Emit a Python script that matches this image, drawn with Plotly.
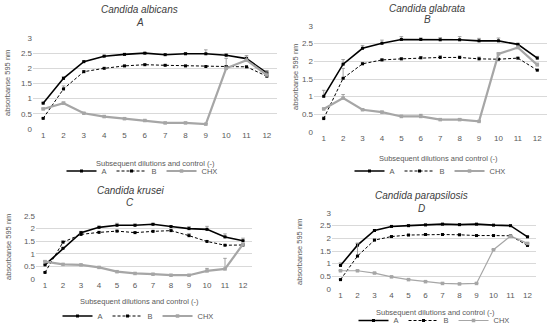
import plotly.graph_objects as go

x_cats = [str(i) for i in range(1, 13)]
series_names = ["A", "B", "CHX"]
panel_titles = ["Candida albicans", "Candida glabrata", "Candida krusei", "Candida parapsilosis"]
panel_letters = ["A", "B", "C", "D"]
x_title = "Subsequent dilutions and control (-)"
y_title = "absorbanse 595 nm"

# Panel A - Candida albicans
albicans_A = [0.85, 1.67, 2.22, 2.40, 2.46, 2.50, 2.45, 2.48, 2.48, 2.43, 2.32, 1.85]
albicans_B = [0.35, 1.32, 1.89, 2.00, 2.08, 2.12, 2.10, 2.08, 2.06, 2.06, 2.05, 1.74]
albicans_CHX = [0.66, 0.85, 0.52, 0.41, 0.34, 0.28, 0.20, 0.20, 0.16, 2.00, 2.27, 1.78]
albicans_A_err = [0.03, 0.05, 0.03, 0.03, 0.02, 0.02, 0.02, 0.04, 0.13, 0.05, 0.05, 0.08]
albicans_B_err = [0.02, 0.10, 0.03, 0.02, 0.02, 0.02, 0.02, 0.02, 0.02, 0.02, 0.02, 0.03]
albicans_CHX_err = [0.03, 0.04, 0.02, 0.02, 0.02, 0.02, 0.02, 0.02, 0.02, 0.33, 0.15, 0.10]

# Panel B - Candida glabrata
glabrata_A = [1.01, 1.92, 2.37, 2.51, 2.62, 2.62, 2.61, 2.61, 2.58, 2.58, 2.48, 2.09]
glabrata_B = [0.38, 1.52, 1.93, 2.04, 2.07, 2.10, 2.11, 2.11, 2.07, 2.06, 2.09, 1.75]
glabrata_CHX = [0.65, 0.96, 0.63, 0.56, 0.44, 0.44, 0.35, 0.35, 0.30, 2.21, 2.39, 1.90]
glabrata_A_err = [0.17, 0.13, 0.08, 0.09, 0.08, 0.04, 0.06, 0.09, 0.07, 0.08, 0.03, 0.05]
glabrata_B_err = [0.05, 0.28, 0.04, 0.03, 0.03, 0.03, 0.05, 0.04, 0.05, 0.02, 0.02, 0.02]
glabrata_CHX_err = [0.03, 0.10, 0.03, 0.03, 0.03, 0.06, 0.03, 0.03, 0.02, 0.03, 0.05, 0.05]

# Panel C - Candida krusei
krusei_A = [0.56, 1.22, 1.84, 2.05, 2.13, 2.13, 2.17, 2.08, 2.00, 1.97, 1.67, 1.52]
krusei_B = [0.26, 1.46, 1.77, 1.85, 1.90, 1.84, 1.89, 1.92, 1.72, 1.49, 1.34, 1.35]
krusei_CHX = [0.69, 0.58, 0.56, 0.46, 0.29, 0.22, 0.19, 0.15, 0.15, 0.32, 0.40, 1.38]
krusei_A_err = [0.03, 0.03, 0.05, 0.05, 0.08, 0.05, 0.04, 0.03, 0.08, 0.12, 0.12, 0.10]
krusei_B_err = [0.02, 0.05, 0.03, 0.03, 0.03, 0.03, 0.03, 0.03, 0.08, 0.02, 0.02, 0.02]
krusei_CHX_err = [0.03, 0.02, 0.02, 0.02, 0.02, 0.02, 0.02, 0.02, 0.02, 0.10, 0.42, 0.03]

# Panel D - Candida parapsilosis
parapsilosis_A = [0.93, 1.73, 2.31, 2.47, 2.50, 2.53, 2.56, 2.54, 2.56, 2.52, 2.50, 2.06]
parapsilosis_B = [0.37, 1.30, 1.93, 2.07, 2.13, 2.15, 2.15, 2.14, 2.11, 2.11, 2.10, 1.72]
parapsilosis_CHX = [0.72, 0.72, 0.63, 0.48, 0.37, 0.29, 0.22, 0.20, 0.22, 1.55, 2.09, 1.80]
parapsilosis_A_err = [0.10, 0.08, 0.03, 0.03, 0.03, 0.03, 0.03, 0.02, 0.02, 0.02, 0.02, 0.03]
parapsilosis_B_err = [0.03, 0.50, 0.03, 0.02, 0.02, 0.02, 0.02, 0.02, 0.02, 0.02, 0.02, 0.02]
parapsilosis_CHX_err = [0.02, 0.02, 0.02, 0.02, 0.02, 0.02, 0.02, 0.02, 0.02, 0.02, 0.02, 0.02]

panels = [
    (albicans_A, albicans_B, albicans_CHX, albicans_A_err, albicans_B_err, albicans_CHX_err),
    (glabrata_A, glabrata_B, glabrata_CHX, glabrata_A_err, glabrata_B_err, glabrata_CHX_err),
    (krusei_A, krusei_B, krusei_CHX, krusei_A_err, krusei_B_err, krusei_CHX_err),
    (parapsilosis_A, parapsilosis_B, parapsilosis_CHX, parapsilosis_A_err, parapsilosis_B_err, parapsilosis_CHX_err),
]

W, H = 550, 335
FONT = "Liberation Sans"
TICK_COLOR = "#595959"
GRID = "#d9d9d9"

def px(x):
    return x / W

def py(y):
    return 1 - y / H

# layout geometry (pixels)
geo = [
    dict(x0=33, x1=277, yt=38, yb=129, ymax=3, title_x=140, title_y=10, letter_y=22,
         ylab_x=7, ylab_y=83, xt_y=163, xt_x=155, leg_x=142, leg_y=171, chx_w=2.2),
    dict(x0=314, x1=547, yt=26, yb=132, ymax=3, title_x=427, title_y=8, letter_y=20,
         ylab_x=295, ylab_y=77, xt_y=158, xt_x=438, leg_x=430, leg_y=171, chx_w=2.2),
    dict(x0=36, x1=252, yt=216, yb=279, ymax=2.5, title_x=130, title_y=190, letter_y=202,
         ylab_x=9, ylab_y=247, xt_y=301, xt_x=140, leg_x=138, leg_y=316, chx_w=2.2),
    dict(x0=332, x1=536, yt=213, yb=289, ymax=3, title_x=422, title_y=195, letter_y=208,
         ylab_x=299, ylab_y=252, xt_y=312, xt_x=435, leg_x=434, leg_y=328, chx_w=1.2),
]

fig = go.Figure()
annotations = []
layout_axes = {}

for i, (data, g) in enumerate(zip(panels, geo)):
    n = i + 1
    xa = "x" if n == 1 else f"x{n}"
    ya = "y" if n == 1 else f"y{n}"
    leg = "legend" if n == 1 else f"legend{n}"
    a_vals, b_vals, c_vals, a_err, b_err, c_err = data
    styles = [
        (a_vals, a_err, dict(color="#000000", width=1.6, dash="solid"), "#000000", 3),
        (b_vals, b_err, dict(color="#000000", width=1.0, dash="3px,2px"), "#000000", 3),
        (c_vals, c_err, dict(color="#a6a6a6", width=g["chx_w"], dash="solid"), "#a6a6a6", 3.5),
    ]
    for name, (vals, err, line, mcol, msize) in zip(series_names, styles):
        fig.add_trace(go.Scatter(
            x=x_cats, y=vals, name=name, mode="lines+markers",
            line=line, marker=dict(color=mcol, size=msize, symbol="square"),
            error_y=dict(type="data", array=err, arrayminus=[0] * len(err), symmetric=False,
                         color="#8c8c8c", thickness=0.8, width=1.8),
            xaxis=xa, yaxis=ya, legend=leg, showlegend=True,
        ))
    xkey = "xaxis" if n == 1 else f"xaxis{n}"
    ykey = "yaxis" if n == 1 else f"yaxis{n}"
    layout_axes[xkey] = dict(
        domain=[px(g["x0"]), px(g["x1"])], anchor=ya, type="category",
        range=[-0.5, 11.5], showgrid=False, zeroline=False, showline=False,
        ticks="", tickfont=dict(family=FONT, size=8, color=TICK_COLOR), fixedrange=True,
        automargin=False,
    )
    layout_axes[ykey] = dict(
        domain=[py(g["yb"]), py(g["yt"])], anchor=xa, range=[0, g["ymax"]],
        dtick=0.5, showgrid=True, gridcolor=GRID, gridwidth=1, zeroline=False,
        showline=False, ticks="", tickfont=dict(family=FONT, size=8, color=TICK_COLOR),
        fixedrange=True, automargin=False,
    )
    layout_axes[leg] = dict(
        x=px(g["leg_x"]), y=py(g["leg_y"]), xanchor="center", yanchor="middle",
        orientation="h", font=dict(family=FONT, size=7.5, color=TICK_COLOR),
        bgcolor="rgba(0,0,0,0)", itemwidth=30, tracegroupgap=0,
    )
    annotations += [
        dict(text=f"<i>{panel_titles[i]}</i>", x=px(g["title_x"]), y=py(g["title_y"]),
             xref="paper", yref="paper", showarrow=False, xanchor="center", yanchor="middle",
             font=dict(family=FONT, size=10, color="#404040")),
        dict(text=f"<i>{panel_letters[i]}</i>", x=px(g["title_x"]), y=py(g["letter_y"]),
             xref="paper", yref="paper", showarrow=False, xanchor="center", yanchor="middle",
             font=dict(family=FONT, size=10, color="#404040")),
        dict(text=y_title, x=px(g["ylab_x"]), y=py(g["ylab_y"]), textangle=-90,
             xref="paper", yref="paper", showarrow=False, xanchor="center", yanchor="middle",
             font=dict(family=FONT, size=7.5, color=TICK_COLOR)),
        dict(text=x_title, x=px(g["xt_x"]), y=py(g["xt_y"]),
             xref="paper", yref="paper", showarrow=False, xanchor="center", yanchor="middle",
             font=dict(family=FONT, size=7.5, color=TICK_COLOR)),
    ]

# keep the last legend fully inside the page so it does not push margins
layout_axes["legend4"].update(y=0, yanchor="bottom")

fig.update_layout(
    width=W, height=H, margin=dict(l=0, r=0, t=0, b=0, autoexpand=False),
    paper_bgcolor="white", plot_bgcolor="white",
    annotations=annotations, **layout_axes,
)

fig.write_html(
    "out.html",
    config={"displayModeBar": False, "staticPlot": True},
    post_script="document.body.style.margin='0';document.body.style.padding='0';",
)
